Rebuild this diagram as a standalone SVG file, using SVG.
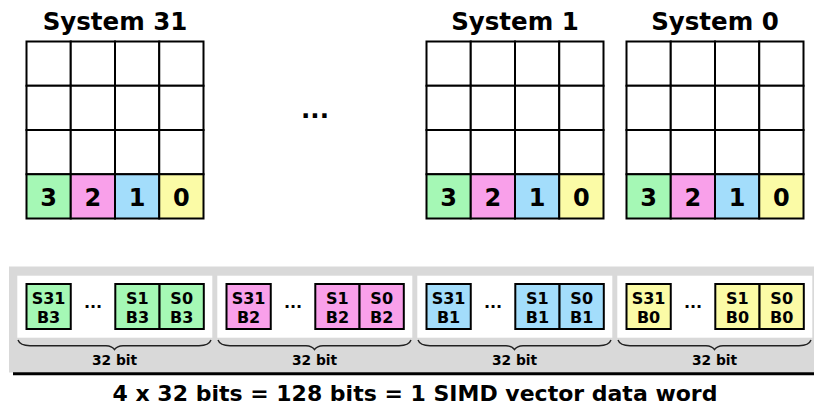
<svg xmlns="http://www.w3.org/2000/svg" width="814" height="405" viewBox="0 0 814 405">
  <style>
    text { font-family: "DejaVu Sans", "Liberation Sans", sans-serif; font-weight: bold; fill: #000; text-anchor: middle; }
    .title { font-size: 24.5px; }
    .digit { font-size: 24px; }
    .cell { fill: #fff; stroke: #000; stroke-width: 2; }
    .reg { stroke: #000; stroke-width: 2; }
    .g { fill: #a5f8b5; }
    .p { fill: #f9a0ea; }
    .b { fill: #a3ddfb; }
    .y { fill: #fbfba6; }
    .lane { font-size: 16px; }
    .dots { font-size: 16px; }
    .bits { font-size: 13.8px; }
    .brace { fill: none; stroke: #222; stroke-width: 1.4; }
    .panel { fill: #fff; }
  </style>
  <defs>
    <!-- 4x4 register grid, bottom row holds bytes 3..0 -->
    <g id="grid">
      <rect class="cell" x="0" y="0" width="44.25" height="44.25"/>
      <rect class="cell" x="44.25" y="0" width="44.25" height="44.25"/>
      <rect class="cell" x="88.5" y="0" width="44.25" height="44.25"/>
      <rect class="cell" x="132.75" y="0" width="44.25" height="44.25"/>
      <rect class="cell" x="0" y="44.25" width="44.25" height="44.25"/>
      <rect class="cell" x="44.25" y="44.25" width="44.25" height="44.25"/>
      <rect class="cell" x="88.5" y="44.25" width="44.25" height="44.25"/>
      <rect class="cell" x="132.75" y="44.25" width="44.25" height="44.25"/>
      <rect class="cell" x="0" y="88.5" width="44.25" height="44.25"/>
      <rect class="cell" x="44.25" y="88.5" width="44.25" height="44.25"/>
      <rect class="cell" x="88.5" y="88.5" width="44.25" height="44.25"/>
      <rect class="cell" x="132.75" y="88.5" width="44.25" height="44.25"/>
      <rect class="cell g" x="0" y="132.75" width="44.25" height="44.25"/>
      <rect class="cell p" x="44.25" y="132.75" width="44.25" height="44.25"/>
      <rect class="cell b" x="88.5" y="132.75" width="44.25" height="44.25"/>
      <rect class="cell y" x="132.75" y="132.75" width="44.25" height="44.25"/>
      <text class="digit" x="22.1" y="164">3</text>
      <text class="digit" x="66.4" y="164">2</text>
      <text class="digit" x="110.6" y="164">1</text>
      <text class="digit" x="154.9" y="164">0</text>
    </g>
    <path id="brace" class="brace" d="M18,340 Q20,345.6 30,345.7 L106,345.7 Q112,346 114.5,349.5 Q117,346 123,345.7 L199,345.7 Q209,345.6 211,340"/>
  </defs>

  <!-- register files of the individual systems -->
  <g id="system31">
    <text class="title" x="115" y="30">System 31</text>
    <use href="#grid" x="26.5" y="41.5"/>
  </g>
  <g id="ellipsis">
    <text class="title" x="315" y="118">...</text>
  </g>
  <g id="system1">
    <text class="title" x="515" y="30">System 1</text>
    <use href="#grid" x="426.5" y="41.5"/>
  </g>
  <g id="system0">
    <text class="title" x="715" y="30">System 0</text>
    <use href="#grid" x="626.5" y="41.5"/>
  </g>

  <!-- SIMD vector word -->
  <g id="vector">
    <rect x="9" y="266.5" width="805" height="106" fill="#d9d9d9"/>
    <line x1="13" y1="373.8" x2="814" y2="373.8" stroke="#000" stroke-width="3"/>
  </g>

  <g id="lane3">
    <rect class="panel" x="17.3" y="275.7" width="195" height="62"/>
    <rect class="reg g" x="26.5" y="284" width="44.25" height="45"/>
    <rect class="reg g" x="115.3" y="284" width="44.25" height="45"/>
    <rect class="reg g" x="159.55" y="284" width="44.25" height="45"/>
    <text class="lane" x="48.6" y="303.8">S31<tspan x="48.6" dy="18.7">B3</tspan></text>
    <text class="dots" x="93" y="308">...</text>
    <text class="lane" x="137.4" y="303.8">S1<tspan x="137.4" dy="18.7">B3</tspan></text>
    <text class="lane" x="181.7" y="303.8">S0<tspan x="181.7" dy="18.7">B3</tspan></text>
    <use href="#brace"/>
    <text class="bits" x="114.5" y="365">32 bit</text>
  </g>
  <g id="lane2">
    <rect class="panel" x="217.3" y="275.7" width="195" height="62"/>
    <rect class="reg p" x="226.5" y="284" width="44.25" height="45"/>
    <rect class="reg p" x="315.3" y="284" width="44.25" height="45"/>
    <rect class="reg p" x="359.55" y="284" width="44.25" height="45"/>
    <text class="lane" x="248.6" y="303.8">S31<tspan x="248.6" dy="18.7">B2</tspan></text>
    <text class="dots" x="293" y="308">...</text>
    <text class="lane" x="337.4" y="303.8">S1<tspan x="337.4" dy="18.7">B2</tspan></text>
    <text class="lane" x="381.7" y="303.8">S0<tspan x="381.7" dy="18.7">B2</tspan></text>
    <use href="#brace" x="200"/>
    <text class="bits" x="314.5" y="365">32 bit</text>
  </g>
  <g id="lane1">
    <rect class="panel" x="417.3" y="275.7" width="195" height="62"/>
    <rect class="reg b" x="426.5" y="284" width="44.25" height="45"/>
    <rect class="reg b" x="515.3" y="284" width="44.25" height="45"/>
    <rect class="reg b" x="559.55" y="284" width="44.25" height="45"/>
    <text class="lane" x="448.6" y="303.8">S31<tspan x="448.6" dy="18.7">B1</tspan></text>
    <text class="dots" x="493" y="308">...</text>
    <text class="lane" x="537.4" y="303.8">S1<tspan x="537.4" dy="18.7">B1</tspan></text>
    <text class="lane" x="581.7" y="303.8">S0<tspan x="581.7" dy="18.7">B1</tspan></text>
    <use href="#brace" x="400"/>
    <text class="bits" x="514.5" y="365">32 bit</text>
  </g>
  <g id="lane0">
    <rect class="panel" x="617.3" y="275.7" width="195" height="62"/>
    <rect class="reg y" x="626.5" y="284" width="44.25" height="45"/>
    <rect class="reg y" x="715.3" y="284" width="44.25" height="45"/>
    <rect class="reg y" x="759.55" y="284" width="44.25" height="45"/>
    <text class="lane" x="648.6" y="303.8">S31<tspan x="648.6" dy="18.7">B0</tspan></text>
    <text class="dots" x="693" y="308">...</text>
    <text class="lane" x="737.4" y="303.8">S1<tspan x="737.4" dy="18.7">B0</tspan></text>
    <text class="lane" x="781.7" y="303.8">S0<tspan x="781.7" dy="18.7">B0</tspan></text>
    <use href="#brace" x="600"/>
    <text class="bits" x="714.5" y="365">32 bit</text>
  </g>

  <g id="caption">
    <text x="415" y="400.5" font-size="22">4 x 32 bits = 128 bits = 1 SIMD vector data word</text>
  </g>
</svg>
